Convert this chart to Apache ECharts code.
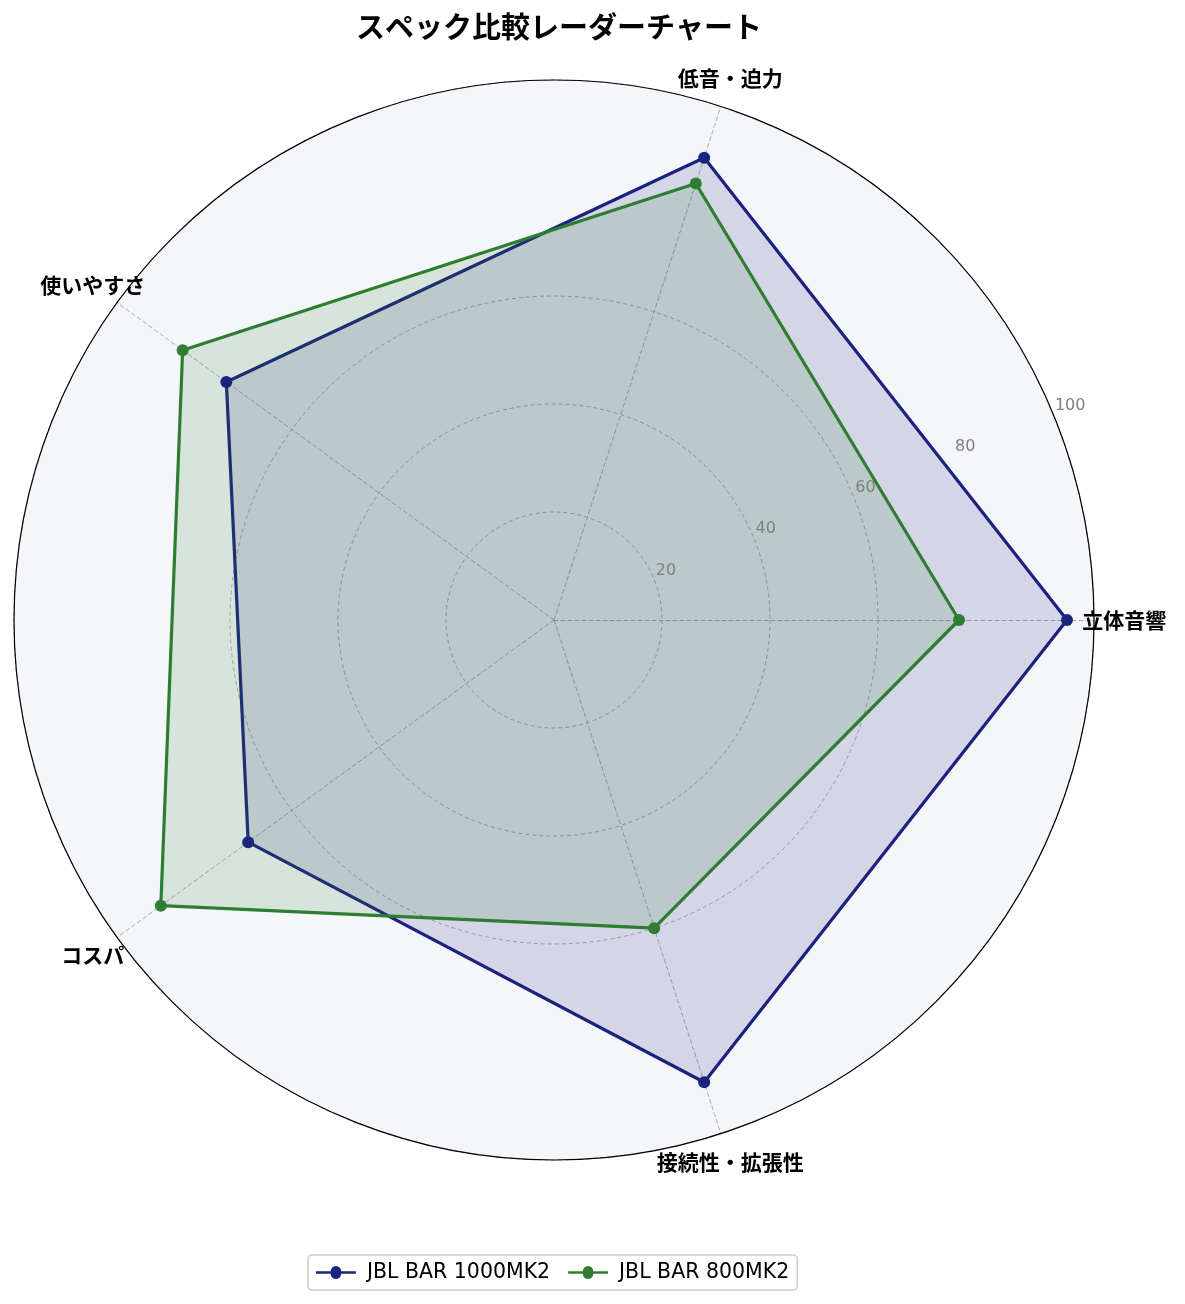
<!DOCTYPE html>
<html><head><meta charset="utf-8">
<script src="https://cdn.jsdelivr.net/npm/echarts@6/dist/echarts.min.js"></script>
<style>html,body{margin:0;padding:0;background:#fff}#c{width:1185px;height:1304px}</style>
</head><body><div id="c"></div>
<script>
const indicators = ['立体音響','低音・迫力','使いやすさ','コスパ','接続性・拡張性'];
const seriesNames = ['JBL BAR 1000MK2','JBL BAR 800MK2'];
const bar1000 = [95, 90, 75, 70, 90];
const bar800 = [75, 85, 85, 90, 60];
const colors = ['#1a237e','#2e7d32'];
const radialMax = 100;
const radialInterval = 20;

const FONT = '"Noto Sans CJK JP", "Noto Sans", sans-serif';
const LATIN = '"DejaVu Sans", sans-serif';
const center = [554, 620];
const radius = 540;
const nameRadius = 105.6;
const legendIcon = 'path://M0,5H14A5,5 0 0,1 24,5H38V7.4H24A5,5 0 0,1 14,7.4H0Z';

const chart = echarts.init(document.getElementById('c'));
chart.setOption({
  backgroundColor: '#ffffff',
  textStyle: {fontFamily: FONT},
  title: {text: 'スペック比較レーダーチャート', left: 554, textAlign: 'center', top: 7,
    textStyle: {fontSize: 29, fontWeight: 'bold', color: '#000', fontFamily: FONT}},
  legend: {
    data: seriesNames, bottom: 14, left: 308,
    icon: legendIcon, itemWidth: 40, itemHeight: 13, itemGap: 18,
    borderColor: '#cccccc', borderWidth: 1.5, borderRadius: 4, padding: [7, 8],
    textStyle: {fontSize: 20.5, color: '#000', fontFamily: LATIN, padding: [0, 0, 0, 6]}
  },
  polar: [
    {center: center, radius: radius},
    {center: center, radius: radius}
  ],
  angleAxis: [
    {polarIndex: 0, type: 'value', min: 0, max: 360, startAngle: 22.5, clockwise: false,
      axisLine: {show: true, lineStyle: {color: '#000', width: 1.2}},
      axisTick: {show: false}, axisLabel: {show: false}, splitLine: {show: false}, z: 5},
    {polarIndex: 1, type: 'category', data: indicators, boundaryGap: false, startAngle: 0, clockwise: false,
      show: false}
  ],
  radiusAxis: [
    {polarIndex: 0, type: 'value', min: 0, max: radialMax, interval: radialInterval,
      axisLine: {show: false}, axisTick: {show: false}, splitLine: {show: false},
      axisLabel: {show: true, color: '#808080', fontSize: 16, fontFamily: LATIN,
        margin: 0, align: 'left', verticalAlign: 'bottom', padding: [0, 0, 0, 2],
        formatter: v => v === 0 ? '' : String(v)}, z: 5},
    {polarIndex: 1, type: 'value', min: 0, max: radialMax, show: false}
  ],
  radar: {
    center: center, radius: radius, startAngle: 0, shape: 'circle', splitNumber: 5,
    indicator: indicators.map(n => ({name: n, max: radialMax, min: 0})),
    axisName: {show: false},
    axisLine: {lineStyle: {color: '#999', type: [4, 3], width: 0.8}},
    splitLine: {lineStyle: {color: ['#999','#999','#999','#999','rgba(0,0,0,0)'], type: [4, 3], width: 0.8}},
    splitArea: {areaStyle: {color: ['#f5f6fa']}},
    axisLabel: {show: false}
  },
  series: [{
    type: 'radar',
    symbol: 'circle', symbolSize: 12,
    data: [
      {name: seriesNames[0], value: bar1000,
        lineStyle: {color: colors[0], width: 3.2}, itemStyle: {color: colors[0]},
        areaStyle: {color: colors[0], opacity: 0.15}},
      {name: seriesNames[1], value: bar800,
        lineStyle: {color: colors[1], width: 3.2}, itemStyle: {color: colors[1]},
        areaStyle: {color: colors[1], opacity: 0.15}}
    ]
  }, {
    type: 'scatter', coordinateSystem: 'polar', polarIndex: 1, clip: false, silent: true,
    symbolSize: 0, z: 10, itemStyle: {opacity: 1},
    data: indicators.map(n => [nameRadius, n]),
    label: {show: true, position: [0, 0], formatter: p => p.value[1],
      color: '#000', opacity: 1, fontSize: 21, fontWeight: 'bold', fontFamily: FONT,
      align: 'center', verticalAlign: 'middle'}
  }]
});
</script></body></html>
